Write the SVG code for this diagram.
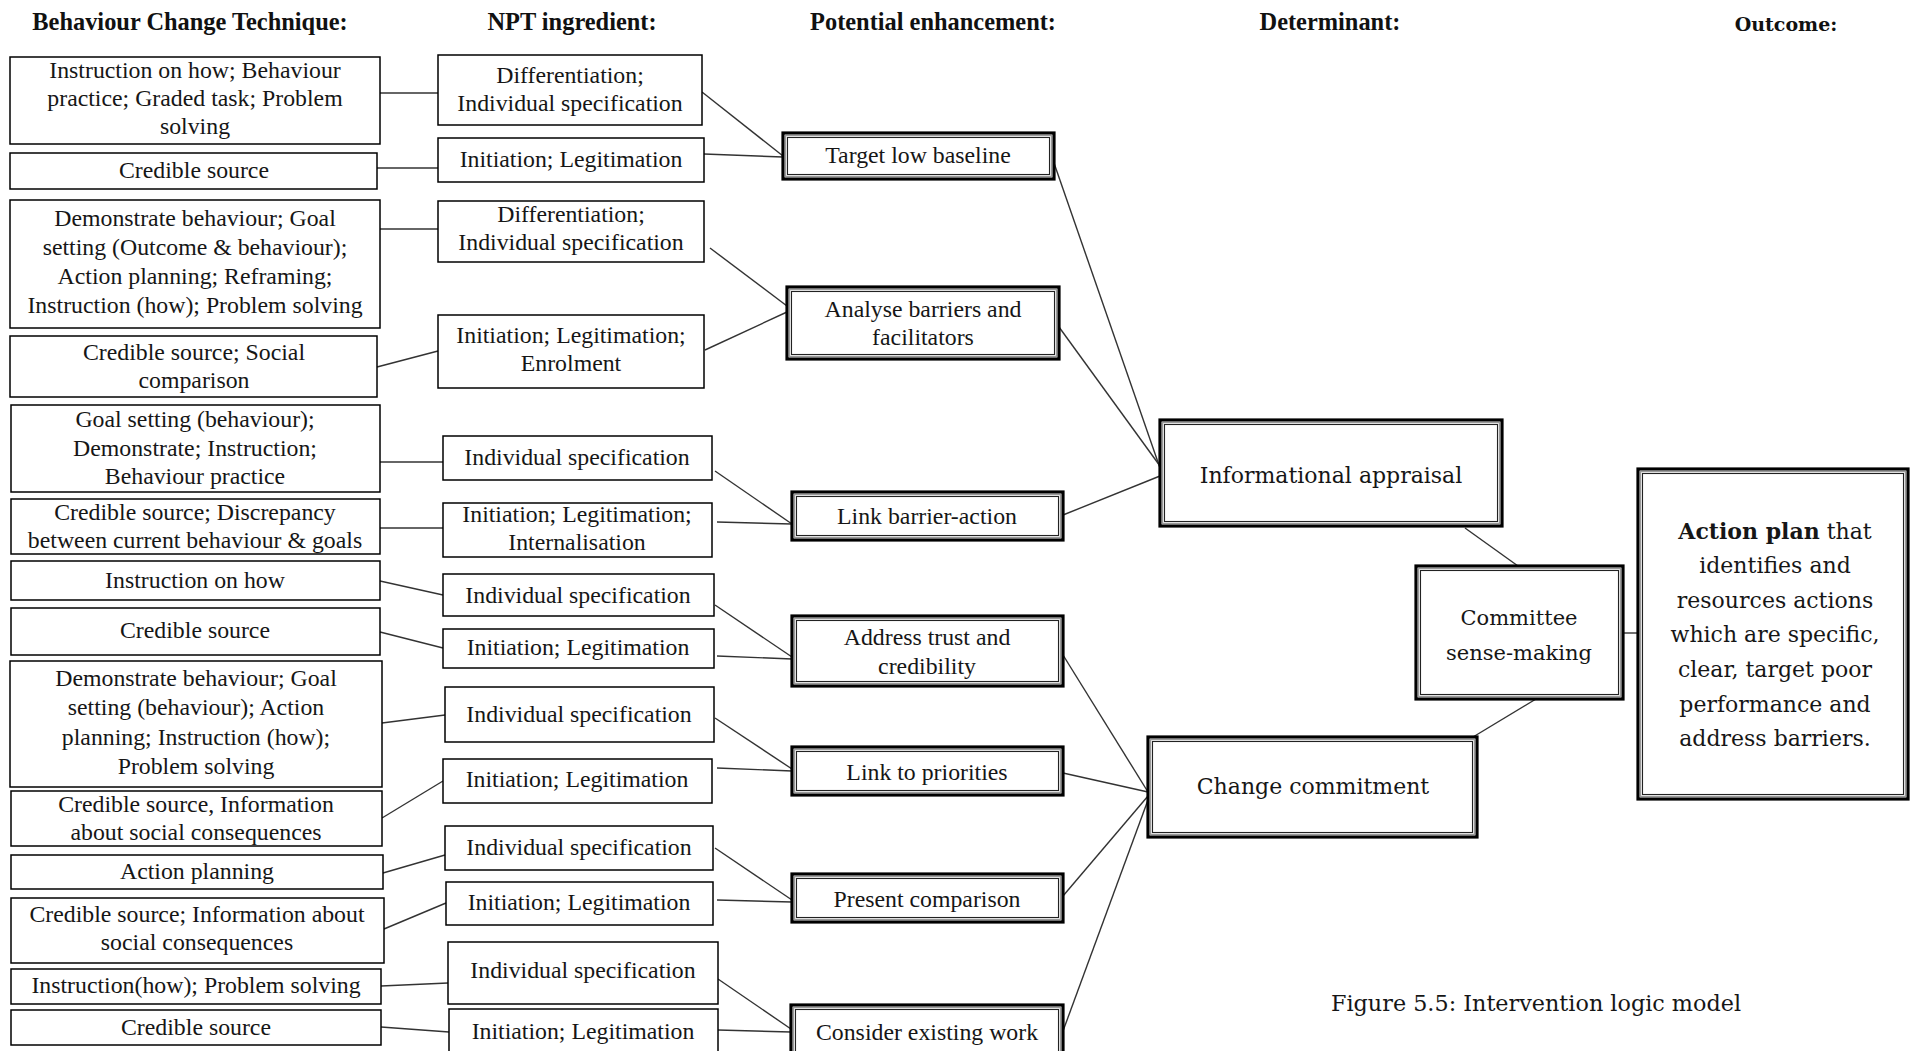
<svg xmlns="http://www.w3.org/2000/svg" width="1910" height="1051" viewBox="0 0 1910 1051">
  <style>
    .bg { fill: #ffffff; }
    .box { fill: #ffffff; stroke: #000000; stroke-width: 1.5; }
    .dOut { fill: #ffffff; stroke: #000000; stroke-width: 3.2; }
    .dMid { fill: none; stroke: #9a9a9a; stroke-width: 1.4; }
    .dIn { fill: none; stroke: #222222; stroke-width: 1.1; }
    .t { font-family: "Liberation Serif", "Times New Roman", serif; font-size: 23.8px; fill: #161616; text-anchor: middle; }
    .hd { font-family: "Liberation Serif", "Times New Roman", serif; font-size: 24.4px; font-weight: bold; fill: #111111; text-anchor: middle; }
    .w { font-family: "DejaVu Serif", "Liberation Serif", serif; fill: #161616; text-anchor: middle; }
    .det { font-size: 22px; }
    .com { font-size: 21px; }
    .out { font-size: 22px; }
    .cap { font-family: "DejaVu Serif", "Liberation Serif", serif; font-size: 22.3px; fill: #161616; }
    .hdw { font-family: "DejaVu Serif", "Liberation Serif", serif; font-size: 19px; font-weight: bold; fill: #111111; text-anchor: middle; }
    .ln { fill: none; stroke: #333333; stroke-width: 1.4; }
  </style>

  <rect class="bg" x="0" y="0" width="1910" height="1051"/>

  <!-- column headings -->
  <g id="headings">
    <text class="hd" x="190" y="30">Behaviour Change Technique:</text>
    <text class="hd" x="572" y="30">NPT ingredient:</text>
    <text class="hd" x="933" y="30">Potential enhancement:</text>
    <text class="hd" x="1330" y="30">Determinant:</text>
    <text class="hdw" x="1786" y="31">Outcome:</text>
  </g>

  <!-- connectors -->
  <g id="connectors">
    <!-- technique to ingredient -->
    <line class="ln" x1="380" y1="93" x2="438" y2="93"/>
    <line class="ln" x1="377" y1="168" x2="438" y2="168"/>
    <line class="ln" x1="380" y1="229" x2="438" y2="229"/>
    <line class="ln" x1="377" y1="367" x2="438" y2="351"/>
    <line class="ln" x1="380" y1="462" x2="443" y2="462"/>
    <line class="ln" x1="380" y1="528" x2="443" y2="528"/>
    <line class="ln" x1="380" y1="581" x2="443" y2="595"/>
    <line class="ln" x1="380" y1="632" x2="443" y2="648"/>
    <line class="ln" x1="382" y1="723" x2="445" y2="715"/>
    <line class="ln" x1="382" y1="818" x2="443" y2="781"/>
    <line class="ln" x1="383" y1="873" x2="445" y2="855"/>
    <line class="ln" x1="384" y1="929" x2="446" y2="903"/>
    <line class="ln" x1="381" y1="986" x2="448" y2="983"/>
    <line class="ln" x1="381" y1="1027" x2="449" y2="1032"/>
    <!-- ingredient to enhancement -->
    <line class="ln" x1="702" y1="92" x2="783" y2="156"/>
    <line class="ln" x1="704" y1="154" x2="783" y2="157"/>
    <line class="ln" x1="710" y1="248" x2="787" y2="306"/>
    <line class="ln" x1="705" y1="350" x2="787" y2="312"/>
    <line class="ln" x1="715" y1="471" x2="792" y2="524"/>
    <line class="ln" x1="717" y1="522" x2="792" y2="524"/>
    <line class="ln" x1="715" y1="605" x2="792" y2="657"/>
    <line class="ln" x1="717" y1="656" x2="792" y2="659"/>
    <line class="ln" x1="715" y1="718" x2="792" y2="769"/>
    <line class="ln" x1="717" y1="768" x2="792" y2="771"/>
    <line class="ln" x1="715" y1="848" x2="792" y2="900"/>
    <line class="ln" x1="717" y1="900" x2="792" y2="902"/>
    <line class="ln" x1="718" y1="979" x2="791" y2="1029"/>
    <line class="ln" x1="718" y1="1030" x2="791" y2="1032"/>
    <!-- enhancement to determinant -->
    <line class="ln" x1="1054" y1="163" x2="1160" y2="468"/>
    <line class="ln" x1="1059" y1="327" x2="1160" y2="466"/>
    <line class="ln" x1="1063" y1="515" x2="1160" y2="476"/>
    <line class="ln" x1="1063" y1="655" x2="1148" y2="792"/>
    <line class="ln" x1="1063" y1="773" x2="1148" y2="792"/>
    <line class="ln" x1="1063" y1="896" x2="1148" y2="796"/>
    <line class="ln" x1="1063" y1="1031" x2="1148" y2="800"/>
    <!-- determinants to committee and outcome -->
    <line class="ln" x1="1465" y1="528" x2="1518" y2="566"/>
    <line class="ln" x1="1536" y1="699" x2="1473" y2="737"/>
    <line class="ln" x1="1623" y1="633" x2="1638" y2="633"/>
  </g>

  <!-- behaviour change techniques -->
  <g id="bct1"><rect class="box" x="10" y="57" width="370" height="87"/>
    <text class="t" x="195" y="78">Instruction on how; Behaviour</text>
    <text class="t" x="195" y="106">practice; Graded task; Problem</text>
    <text class="t" x="195" y="134">solving</text></g>
  <g id="bct2"><rect class="box" x="10" y="153" width="367" height="36"/>
    <text class="t" x="194" y="178">Credible source</text></g>
  <g id="bct3"><rect class="box" x="10" y="200" width="370" height="128"/>
    <text class="t" x="195" y="226">Demonstrate behaviour; Goal</text>
    <text class="t" x="195" y="255">setting (Outcome &amp; behaviour);</text>
    <text class="t" x="195" y="284">Action planning; Reframing;</text>
    <text class="t" x="195" y="313">Instruction (how); Problem solving</text></g>
  <g id="bct4"><rect class="box" x="10" y="336" width="367" height="61"/>
    <text class="t" x="194" y="360">Credible source; Social</text>
    <text class="t" x="194" y="388">comparison</text></g>
  <g id="bct5"><rect class="box" x="11" y="405" width="369" height="87"/>
    <text class="t" x="195" y="427">Goal setting (behaviour);</text>
    <text class="t" x="195" y="456">Demonstrate; Instruction;</text>
    <text class="t" x="195" y="484">Behaviour practice</text></g>
  <g id="bct6"><rect class="box" x="11" y="499" width="369" height="55"/>
    <text class="t" x="195" y="520">Credible source; Discrepancy</text>
    <text class="t" x="195" y="548">between current behaviour &amp; goals</text></g>
  <g id="bct7"><rect class="box" x="11" y="561" width="369" height="39"/>
    <text class="t" x="195" y="588">Instruction on how</text></g>
  <g id="bct8"><rect class="box" x="11" y="608" width="369" height="47"/>
    <text class="t" x="195" y="638">Credible source</text></g>
  <g id="bct9"><rect class="box" x="10" y="661" width="372" height="126"/>
    <text class="t" x="196" y="686">Demonstrate behaviour; Goal</text>
    <text class="t" x="196" y="715">setting (behaviour); Action</text>
    <text class="t" x="196" y="745">planning; Instruction (how);</text>
    <text class="t" x="196" y="774">Problem solving</text></g>
  <g id="bct10"><rect class="box" x="11" y="791" width="371" height="55"/>
    <text class="t" x="196" y="812">Credible source, Information</text>
    <text class="t" x="196" y="840">about social consequences</text></g>
  <g id="bct11"><rect class="box" x="11" y="855" width="372" height="34"/>
    <text class="t" x="197" y="879">Action planning</text></g>
  <g id="bct12"><rect class="box" x="11" y="898" width="373" height="65"/>
    <text class="t" x="197" y="922">Credible source; Information about</text>
    <text class="t" x="197" y="950">social consequences</text></g>
  <g id="bct13"><rect class="box" x="11" y="969" width="370" height="35"/>
    <text class="t" x="196" y="993">Instruction(how); Problem solving</text></g>
  <g id="bct14"><rect class="box" x="11" y="1010" width="370" height="35"/>
    <text class="t" x="196" y="1035">Credible source</text></g>

  <!-- NPT ingredients -->
  <g id="npt1"><rect class="box" x="438" y="55" width="264" height="70"/>
    <text class="t" x="570" y="83">Differentiation;</text>
    <text class="t" x="570" y="111">Individual specification</text></g>
  <g id="npt2"><rect class="box" x="438" y="138" width="266" height="44"/>
    <text class="t" x="571" y="167">Initiation; Legitimation</text></g>
  <g id="npt3"><rect class="box" x="438" y="201" width="266" height="61"/>
    <text class="t" x="571" y="222">Differentiation;</text>
    <text class="t" x="571" y="250">Individual specification</text></g>
  <g id="npt4"><rect class="box" x="438" y="315" width="266" height="73"/>
    <text class="t" x="571" y="343">Initiation; Legitimation;</text>
    <text class="t" x="571" y="371">Enrolment</text></g>
  <g id="npt5"><rect class="box" x="443" y="436" width="269" height="44"/>
    <text class="t" x="577" y="465">Individual specification</text></g>
  <g id="npt6"><rect class="box" x="443" y="503" width="269" height="54"/>
    <text class="t" x="577" y="522">Initiation; Legitimation;</text>
    <text class="t" x="577" y="550">Internalisation</text></g>
  <g id="npt7"><rect class="box" x="443" y="574" width="271" height="42"/>
    <text class="t" x="578" y="603">Individual specification</text></g>
  <g id="npt8"><rect class="box" x="443" y="629" width="271" height="39"/>
    <text class="t" x="578" y="655">Initiation; Legitimation</text></g>
  <g id="npt9"><rect class="box" x="445" y="687" width="269" height="55"/>
    <text class="t" x="579" y="722">Individual specification</text></g>
  <g id="npt10"><rect class="box" x="443" y="759" width="269" height="44"/>
    <text class="t" x="577" y="787">Initiation; Legitimation</text></g>
  <g id="npt11"><rect class="box" x="445" y="826" width="268" height="44"/>
    <text class="t" x="579" y="855">Individual specification</text></g>
  <g id="npt12"><rect class="box" x="446" y="882" width="267" height="43"/>
    <text class="t" x="579" y="910">Initiation; Legitimation</text></g>
  <g id="npt13"><rect class="box" x="448" y="942" width="270" height="62"/>
    <text class="t" x="583" y="978">Individual specification</text></g>
  <g id="npt14"><rect class="box" x="449" y="1009" width="269" height="55"/>
    <text class="t" x="583" y="1039">Initiation; Legitimation</text></g>

  <!-- potential enhancements -->
  <g id="enh1"><rect class="dOut" x="783" y="133" width="271" height="46"/>
    <rect class="dMid" x="785.5" y="135.5" width="266" height="41"/>
    <rect class="dIn" x="787.5" y="137.5" width="262" height="37"/>
    <text class="t" x="918" y="163">Target low baseline</text></g>
  <g id="enh2"><rect class="dOut" x="787" y="287" width="272" height="72"/>
    <rect class="dMid" x="789.5" y="289.5" width="267" height="67"/>
    <rect class="dIn" x="791.5" y="291.5" width="263" height="63"/>
    <text class="t" x="923" y="317">Analyse barriers and</text>
    <text class="t" x="923" y="345">facilitators</text></g>
  <g id="enh3"><rect class="dOut" x="792" y="492" width="271" height="48"/>
    <rect class="dMid" x="794.5" y="494.5" width="266" height="43"/>
    <rect class="dIn" x="796.5" y="496.5" width="262" height="39"/>
    <text class="t" x="927" y="524">Link barrier-action</text></g>
  <g id="enh4"><rect class="dOut" x="792" y="616" width="271" height="70"/>
    <rect class="dMid" x="794.5" y="618.5" width="266" height="65"/>
    <rect class="dIn" x="796.5" y="620.5" width="262" height="61"/>
    <text class="t" x="927" y="645">Address trust and</text>
    <text class="t" x="927" y="674">credibility</text></g>
  <g id="enh5"><rect class="dOut" x="792" y="747" width="271" height="48"/>
    <rect class="dMid" x="794.5" y="749.5" width="266" height="43"/>
    <rect class="dIn" x="796.5" y="751.5" width="262" height="39"/>
    <text class="t" x="927" y="780">Link to priorities</text></g>
  <g id="enh6"><rect class="dOut" x="792" y="874" width="271" height="48"/>
    <rect class="dMid" x="794.5" y="876.5" width="266" height="43"/>
    <rect class="dIn" x="796.5" y="878.5" width="262" height="39"/>
    <text class="t" x="927" y="907">Present comparison</text></g>
  <g id="enh7"><rect class="dOut" x="791" y="1005" width="272" height="60"/>
    <rect class="dMid" x="793.5" y="1007.5" width="267" height="55"/>
    <rect class="dIn" x="795.5" y="1009.5" width="263" height="51"/>
    <text class="t" x="927" y="1040">Consider existing work</text></g>

  <!-- determinants -->
  <g id="det1"><rect class="dOut" x="1160" y="420" width="342" height="106"/>
    <rect class="dMid" x="1162.5" y="422.5" width="337" height="101"/>
    <rect class="dIn" x="1164.5" y="424.5" width="333" height="97"/>
    <text class="w det" x="1331" y="483">Informational appraisal</text></g>
  <g id="det2"><rect class="dOut" x="1148" y="737" width="329" height="100"/>
    <rect class="dMid" x="1150.5" y="739.5" width="324" height="95"/>
    <rect class="dIn" x="1152.5" y="741.5" width="320" height="91"/>
    <text class="w det" x="1313" y="794">Change commitment</text></g>
  <g id="committee"><rect class="dOut" x="1416" y="566" width="207" height="133"/>
    <rect class="dMid" x="1418.5" y="568.5" width="202" height="128"/>
    <rect class="dIn" x="1420.5" y="570.5" width="198" height="124"/>
    <text class="w com" x="1519" y="625">Committee</text>
    <text class="w com" x="1519" y="660">sense-making</text></g>

  <!-- outcome -->
  <g id="outcome"><rect class="dOut" x="1638" y="469" width="270" height="330"/>
    <rect class="dMid" x="1640.5" y="471.5" width="265" height="325"/>
    <rect class="dIn" x="1642.5" y="473.5" width="261" height="321"/>
    <text class="w out" x="1775" y="539"><tspan font-weight="bold">Action plan</tspan> that</text>
    <text class="w out" x="1775" y="573">identifies and</text>
    <text class="w out" x="1775" y="608">resources actions</text>
    <text class="w out" x="1775" y="642">which are specific,</text>
    <text class="w out" x="1775" y="677">clear, target poor</text>
    <text class="w out" x="1775" y="712">performance and</text>
    <text class="w out" x="1775" y="746">address barriers.</text></g>

  <!-- caption -->
  <text class="cap" x="1331" y="1011">Figure 5.5: Intervention logic model</text>
</svg>
